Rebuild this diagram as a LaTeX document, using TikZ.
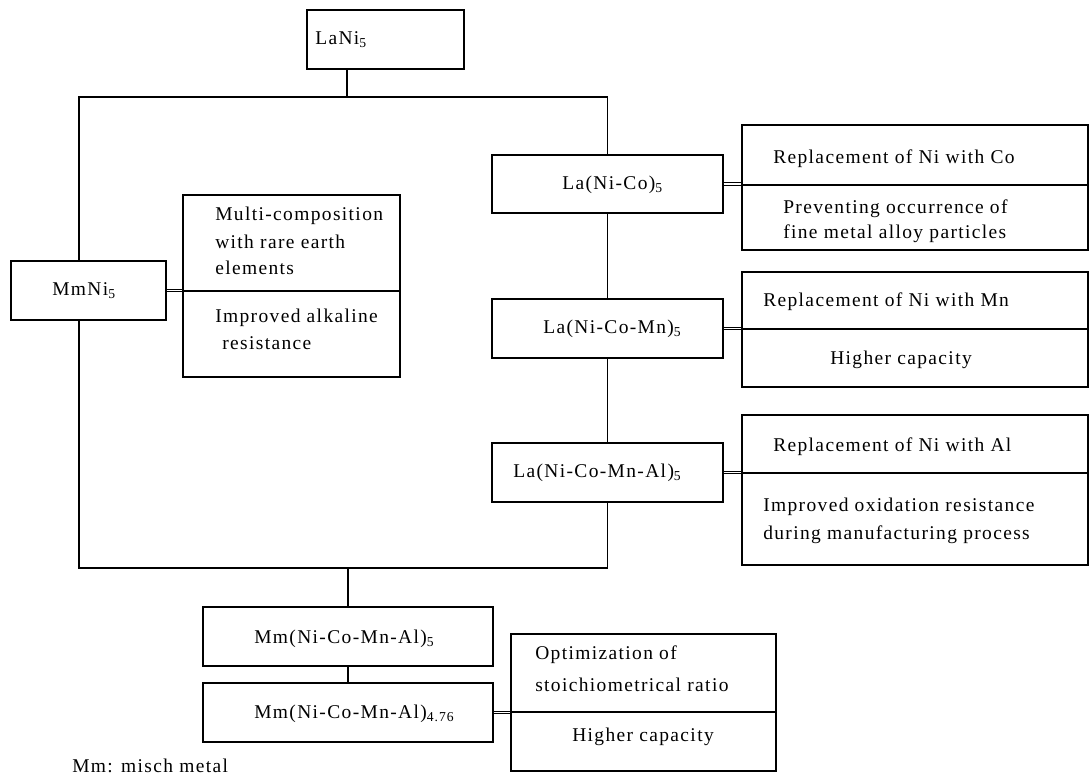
\documentclass[tikz,border=0pt]{standalone}
\usepackage{fontspec}
\setmainfont{Liberation Serif}[LetterSpace=7]
\usetikzlibrary{fit}
\tikzset{
  box/.style={draw, line width=0.8pt, inner sep=0pt},
  lbl/.style={anchor=west, inner sep=0pt, font=\fontsize{14.6}{19}\selectfont},
  link/.style={line width=0.8pt},
  dbl/.style={double, double distance=1.3pt, line width=0.6pt},
}
\begin{document}
\begin{tikzpicture}[x=0.75pt,y=-0.75pt]
\useasboundingbox (0,0) rectangle (1090,778);
% boxes
\node[box, fit={(307,10) (464,69)}] (lani) {};
\node[box, fit={(11,261) (166,320)}] (mmni) {};
\node[box, fit={(183,195) (400,377)}] (lbox) {};
\node[box, fit={(492,155) (723,213)}] (laco) {};
\node[box, fit={(492,299) (723,358)}] (lacomn) {};
\node[box, fit={(492,443) (723,502)}] (lacomnal) {};
\node[box, fit={(742,125) (1088,250)}] (r1) {};
\node[box, fit={(742,272) (1088,387)}] (r2) {};
\node[box, fit={(742,415) (1088,565)}] (r3) {};
\node[box, fit={(203,607) (493,666)}] (mma) {};
\node[box, fit={(203,683) (493,742)}] (mmb) {};
\node[box, fit={(511,634) (776,771)}] (r4) {};
% dividers
\coordinate (d0) at (0,291);
\coordinate (d1) at (0,185);
\coordinate (d2) at (0,329);
\coordinate (d3) at (0,473);
\coordinate (d4) at (0,712);
\draw[link] (lbox.west |- d0) -- (lbox.east |- d0);
\draw[link] (r1.west |- d1) -- (r1.east |- d1);
\draw[link] (r2.west |- d2) -- (r2.east |- d2);
\draw[link] (r3.west |- d3) -- (r3.east |- d3);
\draw[link] (r4.west |- d4) -- (r4.east |- d4);
% frame
\coordinate (ftl) at (79,97);
\coordinate (fbl) at (79,568);
\coordinate (stem) at (347,97);
\coordinate (ftr) at (laco.north |- ftl);
\coordinate (fbr) at (lacomnal.south |- fbl);
\draw[link] (lani.south -| stem) -- (stem);
\draw[link] (mmni.north -| ftl) -- (ftl) -- (ftr) -- (laco.north);
\draw[link] (laco.south) -- (lacomn.north);
\draw[link] (lacomn.south) -- (lacomnal.north);
\draw[link] (lacomnal.south) -- (fbr) -- (fbl) -- (mmni.south -| fbl);
\draw[link] (mma.north |- fbl) -- (mma.north);
\draw[link] (mma.south) -- (mmb.north);
% double connectors
\draw[dbl] (mmni.east) -- (mmni.east -| lbox.west);
\draw[dbl] (laco.east) -- (laco.east -| r1.west);
\draw[dbl] (lacomn.east) -- (lacomn.east -| r2.west);
\draw[dbl] (lacomnal.east) -- (lacomnal.east -| r3.west);
\draw[dbl] (mmb.east) -- (mmb.east -| r4.west);
% texts
\node[lbl] (t0) at (315,40) {LaNi\textsubscript{5}};
\node[lbl] (t1) at (52,291) {MmNi\textsubscript{5}};
\node[lbl] (t2) at (562,185) {La(Ni-Co)\textsubscript{5}};
\node[lbl] (t3) at (543,329) {La(Ni-Co-Mn)\textsubscript{5}};
\node[lbl] (t4) at (513,473) {La(Ni-Co-Mn-Al)\textsubscript{5}};
\node[lbl] (t5) at (254,639) {Mm(Ni-Co-Mn-Al)\textsubscript{5}};
\node[lbl] (t6) at (254,714) {Mm(Ni-Co-Mn-Al)\textsubscript{4.76}};
\node[lbl] (t7) at (72,766) {Mm: misch metal};
\node[lbl] (t8) at (215,216) {Multi-composition};
\node[lbl] (t9) at (215,242) {with rare earth};
\node[lbl] (t10) at (215,268) {elements};
\node[lbl] (t11) at (215,318) {Improved alkaline};
\node[lbl] (t12) at (222,343) {resistance};
\node[lbl] (t13) at (773,159) {Replacement of Ni with Co};
\node[lbl] (t14) at (783,209) {Preventing occurrence of};
\node[lbl] (t15) at (783,234) {fine metal alloy particles};
\node[lbl] (t16) at (763,302) {Replacement of Ni with Mn};
\node[lbl] (t17) at (830,360) {Higher capacity};
\node[lbl] (t18) at (773,447) {Replacement of Ni with Al};
\node[lbl] (t19) at (763,507) {Improved oxidation resistance};
\node[lbl] (t20) at (763,535) {during manufacturing process};
\node[lbl] (t21) at (535,655) {Optimization of};
\node[lbl] (t22) at (535,685) {stoichiometrical ratio};
\node[lbl] (t23) at (572,737) {Higher capacity};
\end{tikzpicture}
\end{document}
